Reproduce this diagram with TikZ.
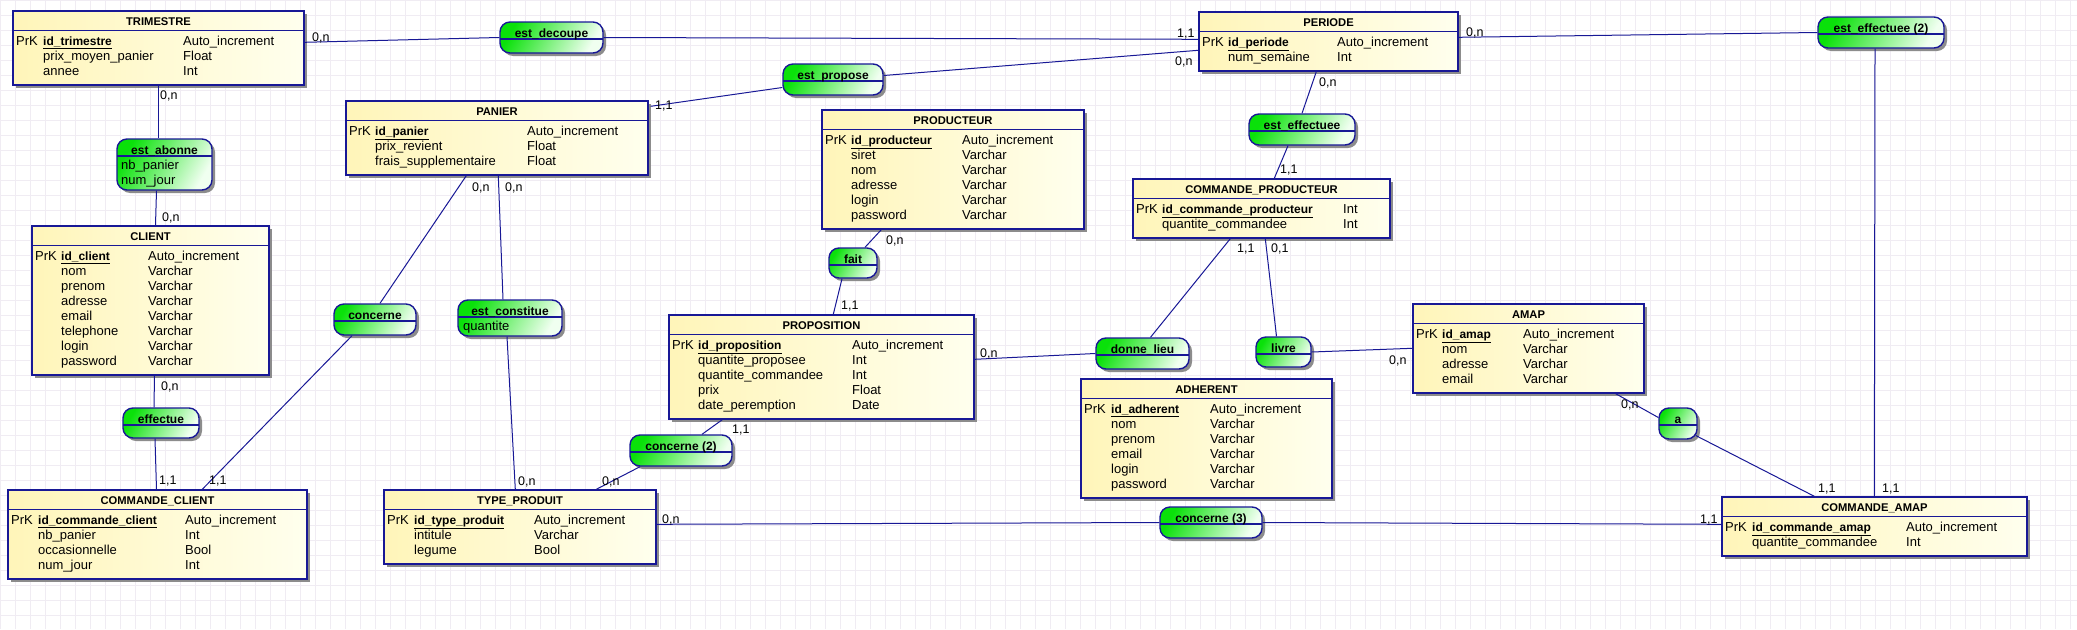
\documentclass[tikz,border=0pt]{standalone}
\usepackage{fontspec}
\setmainfont{Liberation Sans}
\usepackage{tikz}
\usetikzlibrary{positioning, fit, shadows}

\definecolor{bleu}{RGB}{24,24,150}
\definecolor{jaune}{RGB}{255,245,185}
\definecolor{jaunepale}{RGB}{255,255,238}
\definecolor{vert}{RGB}{10,225,10}
\definecolor{vertpale}{RGB}{240,255,240}
\definecolor{grille}{RGB}{240,236,243}

\tikzset{
  ombre/.style={drop shadow={shadow xshift=3pt, shadow yshift=-3pt, fill=black!45, opacity=1}},
  entite/.style={draw=bleu, line width=1.4pt, inner sep=0pt, left color=jaune, right color=jaunepale, ombre},
  relation/.style={draw=bleu, line width=1.4pt, inner sep=0pt, rounded corners=10pt, left color=vert, right color=vertpale, shading angle=60, ombre},
  trait/.style={bleu, line width=1.1pt},
  lien/.style={bleu, line width=1pt},
  titre/.style={anchor=base, inner sep=0pt, font=\fontsize{11.2}{13}\selectfont\bfseries},
  nomrel/.style={anchor=base, inner sep=0pt, font=\fontsize{12}{14}\selectfont\bfseries},
  champ/.style={anchor=base west, inner sep=0pt, font=\fontsize{13}{15}\selectfont},
  cle/.style={anchor=base west, inner sep=0pt, font=\fontsize{12}{15}\selectfont\bfseries},
  card/.style={anchor=base west, inner sep=0pt, font=\fontsize{12.5}{14}\selectfont}
}

\begin{document}
\begin{tikzpicture}[x=1pt, y=-1pt]
    \useasboundingbox (0,0) rectangle (2077,629);

    % Draw background grid
    \fill[white] (0,0) rectangle (2077,629);
    \draw[grille, line width=0.5pt, step=15pt] (0,629) grid (2077,0);

    % Entity TRIMESTRE
    \node[entite, fit={(13,11) (304,85)}] (trimestre) {};
    \draw[trait] (13,30.5) -- (304,30.5);
    \node[titre] (trimestre-titre) at (158.5,25.5) {TRIMESTRE};
    \node[champ] (trimestre-prk) at (16,45.5) {PrK};
    \node[cle] (trimestre-id) at (43,45.5) {\underline{id\_trimestre}};
    \node[champ] (trimestre-idt) at (183,45.5) {Auto\_increment};
    \foreach \nom/\typ [count=\i] in {prix\_moyen\_panier/Float, annee/Int} {
        \node[champ] (trimestre-a\i) at (43,45.5+15*\i) {\nom};
        \node[champ] (trimestre-t\i) at (183,45.5+15*\i) {\typ};
    }

    % Entity CLIENT
    \node[entite, fit={(32,226) (269,375)}] (client) {};
    \draw[trait] (32,245.5) -- (269,245.5);
    \node[titre] (client-titre) at (150.5,240.5) {CLIENT};
    \node[champ] (client-prk) at (35,260.5) {PrK};
    \node[cle] (client-id) at (61,260.5) {\underline{id\_client}};
    \node[champ] (client-idt) at (148,260.5) {Auto\_increment};
    \foreach \nom [count=\i] in {nom, prenom, adresse, email, telephone, login, password} {
        \node[champ] (client-a\i) at (61,260.5+15*\i) {\nom};
        \node[champ] (client-t\i) at (148,260.5+15*\i) {Varchar};
    }

    % Entity COMMANDE_CLIENT
    \node[entite, fit={(8,490) (307,579)}] (commandeclient) {};
    \draw[trait] (8,509.5) -- (307,509.5);
    \node[titre] (commandeclient-titre) at (157.5,504.5) {COMMANDE\_CLIENT};
    \node[champ] (commandeclient-prk) at (11,524.5) {PrK};
    \node[cle] (commandeclient-id) at (38,524.5) {\underline{id\_commande\_client}};
    \node[champ] (commandeclient-idt) at (185,524.5) {Auto\_increment};
    \foreach \nom/\typ [count=\i] in {nb\_panier/Int, occasionnelle/Bool, num\_jour/Int} {
        \node[champ] (commandeclient-a\i) at (38,524.5+15*\i) {\nom};
        \node[champ] (commandeclient-t\i) at (185,524.5+15*\i) {\typ};
    }

    % Entity PANIER
    \node[entite, fit={(346,101) (648,175)}] (panier) {};
    \draw[trait] (346,120.5) -- (648,120.5);
    \node[titre] (panier-titre) at (497,115.5) {PANIER};
    \node[champ] (panier-prk) at (349,135.5) {PrK};
    \node[cle] (panier-id) at (375,135.5) {\underline{id\_panier}};
    \node[champ] (panier-idt) at (527,135.5) {Auto\_increment};
    \foreach \nom/\typ [count=\i] in {prix\_revient/Float, frais\_supplementaire/Float} {
        \node[champ] (panier-a\i) at (375,135.5+15*\i) {\nom};
        \node[champ] (panier-t\i) at (527,135.5+15*\i) {\typ};
    }

    % Entity PRODUCTEUR
    \node[entite, fit={(822,110) (1084,229)}] (producteur) {};
    \draw[trait] (822,129.5) -- (1084,129.5);
    \node[titre] (producteur-titre) at (953,124.5) {PRODUCTEUR};
    \node[champ] (producteur-prk) at (825,144.5) {PrK};
    \node[cle] (producteur-id) at (851,144.5) {\underline{id\_producteur}};
    \node[champ] (producteur-idt) at (962,144.5) {Auto\_increment};
    \foreach \nom [count=\i] in {siret, nom, adresse, login, password} {
        \node[champ] (producteur-a\i) at (851,144.5+15*\i) {\nom};
        \node[champ] (producteur-t\i) at (962,144.5+15*\i) {Varchar};
    }

    % Entity PROPOSITION
    \node[entite, fit={(669,315) (974,419)}] (proposition) {};
    \draw[trait] (669,334.5) -- (974,334.5);
    \node[titre] (proposition-titre) at (821.5,329.5) {PROPOSITION};
    \node[champ] (proposition-prk) at (672,349.5) {PrK};
    \node[cle] (proposition-id) at (698,349.5) {\underline{id\_proposition}};
    \node[champ] (proposition-idt) at (852,349.5) {Auto\_increment};
    \foreach \nom/\typ [count=\i] in {quantite\_proposee/Int, quantite\_commandee/Int, prix/Float, date\_peremption/Date} {
        \node[champ] (proposition-a\i) at (698,349.5+15*\i) {\nom};
        \node[champ] (proposition-t\i) at (852,349.5+15*\i) {\typ};
    }

    % Entity TYPE_PRODUIT
    \node[entite, fit={(384,490) (656,564)}] (typeproduit) {};
    \draw[trait] (384,509.5) -- (656,509.5);
    \node[titre] (typeproduit-titre) at (520,504.5) {TYPE\_PRODUIT};
    \node[champ] (typeproduit-prk) at (387,524.5) {PrK};
    \node[cle] (typeproduit-id) at (414,524.5) {\underline{id\_type\_produit}};
    \node[champ] (typeproduit-idt) at (534,524.5) {Auto\_increment};
    \foreach \nom/\typ [count=\i] in {intitule/Varchar, legume/Bool} {
        \node[champ] (typeproduit-a\i) at (414,524.5+15*\i) {\nom};
        \node[champ] (typeproduit-t\i) at (534,524.5+15*\i) {\typ};
    }

    % Entity PERIODE
    \node[entite, fit={(1199,12) (1458,71)}] (periode) {};
    \draw[trait] (1199,31.5) -- (1458,31.5);
    \node[titre] (periode-titre) at (1328.5,26.5) {PERIODE};
    \node[champ] (periode-prk) at (1202,46.5) {PrK};
    \node[cle] (periode-id) at (1228,46.5) {\underline{id\_periode}};
    \node[champ] (periode-idt) at (1337,46.5) {Auto\_increment};
    \node[champ] (periode-a1) at (1228,61.5) {num\_semaine};
    \node[champ] (periode-t1) at (1337,61.5) {Int};

    % Entity COMMANDE_PRODUCTEUR
    \node[entite, fit={(1133,179) (1390,238)}] (commandeproducteur) {};
    \draw[trait] (1133,198.5) -- (1390,198.5);
    \node[titre] (commandeproducteur-titre) at (1261.5,193.5) {COMMANDE\_PRODUCTEUR};
    \node[champ] (commandeproducteur-prk) at (1136,213.5) {PrK};
    \node[cle] (commandeproducteur-id) at (1162,213.5) {\underline{id\_commande\_producteur}};
    \node[champ] (commandeproducteur-idt) at (1343,213.5) {Int};
    \node[champ] (commandeproducteur-a1) at (1162,228.5) {quantite\_commandee};
    \node[champ] (commandeproducteur-t1) at (1343,228.5) {Int};

    % Entity ADHERENT
    \node[entite, fit={(1081,379) (1332,498)}] (adherent) {};
    \draw[trait] (1081,398.5) -- (1332,398.5);
    \node[titre] (adherent-titre) at (1206.5,393.5) {ADHERENT};
    \node[champ] (adherent-prk) at (1084,413.5) {PrK};
    \node[cle] (adherent-id) at (1111,413.5) {\underline{id\_adherent}};
    \node[champ] (adherent-idt) at (1210,413.5) {Auto\_increment};
    \foreach \nom [count=\i] in {nom, prenom, email, login, password} {
        \node[champ] (adherent-a\i) at (1111,413.5+15*\i) {\nom};
        \node[champ] (adherent-t\i) at (1210,413.5+15*\i) {Varchar};
    }

    % Entity AMAP
    \node[entite, fit={(1413,304) (1644,393)}] (amap) {};
    \draw[trait] (1413,323.5) -- (1644,323.5);
    \node[titre] (amap-titre) at (1528.5,318.5) {AMAP};
    \node[champ] (amap-prk) at (1416,338.5) {PrK};
    \node[cle] (amap-id) at (1442,338.5) {\underline{id\_amap}};
    \node[champ] (amap-idt) at (1523,338.5) {Auto\_increment};
    \foreach \nom [count=\i] in {nom, adresse, email} {
        \node[champ] (amap-a\i) at (1442,338.5+15*\i) {\nom};
        \node[champ] (amap-t\i) at (1523,338.5+15*\i) {Varchar};
    }

    % Entity COMMANDE_AMAP
    \node[entite, fit={(1722,497) (2027,556)}] (commandeamap) {};
    \draw[trait] (1722,516.5) -- (2027,516.5);
    \node[titre] (commandeamap-titre) at (1874.5,511.5) {COMMANDE\_AMAP};
    \node[champ] (commandeamap-prk) at (1725,531.5) {PrK};
    \node[cle] (commandeamap-id) at (1752,531.5) {\underline{id\_commande\_amap}};
    \node[champ] (commandeamap-idt) at (1906,531.5) {Auto\_increment};
    \node[champ] (commandeamap-a1) at (1752,546.5) {quantite\_commandee};
    \node[champ] (commandeamap-t1) at (1906,546.5) {Int};

    % Relations
    \node[relation, fit={(500,22) (603,53)}] (estdecoupe) {};
    \draw[trait] (500,39) -- (603,39);
    \node[nomrel] (estdecoupe-titre) at (551.5,37) {est\_decoupe};

    \node[relation, fit={(783,64) (883,95)}] (estpropose) {};
    \draw[trait] (783,81) -- (883,81);
    \node[nomrel] (estpropose-titre) at (833,79) {est\_propose};

    \node[relation, fit={(117,139) (212,190)}] (estabonne) {};
    \draw[trait] (117,156) -- (212,156);
    \node[nomrel] (estabonne-titre) at (164.5,154) {est\_abonne};
    \node[champ] (estabonne-a1) at (121,169.5) {nb\_panier};
    \node[champ] (estabonne-a2) at (121,184.5) {num\_jour};

    \node[relation, fit={(123,408) (199,438)}] (effectue) {};
    \draw[trait] (123,425) -- (199,425);
    \node[nomrel] (effectue-titre) at (161,423) {effectue};

    \node[relation, fit={(334,304) (416,335)}] (concerne) {};
    \draw[trait] (334,321) -- (416,321);
    \node[nomrel] (concerne-titre) at (375,319) {concerne};

    \node[relation, fit={(458,300) (562,336)}] (estconstitue) {};
    \draw[trait] (458,317) -- (562,317);
    \node[nomrel] (estconstitue-titre) at (510,315) {est\_constitue};
    \node[champ] (estconstitue-a1) at (463,330.5) {quantite};

    \node[relation, fit={(630,435) (732,466)}] (concerne2) {};
    \draw[trait] (630,452) -- (732,452);
    \node[nomrel] (concerne2-titre) at (681,450) {concerne (2)};

    \node[relation, fit={(829,248) (877,278)}] (fait) {};
    \draw[trait] (829,265) -- (877,265);
    \node[nomrel] (fait-titre) at (853,263) {fait};

    \node[relation, fit={(1249,114) (1355,145)}] (esteffectuee) {};
    \draw[trait] (1249,131) -- (1355,131);
    \node[nomrel] (esteffectuee-titre) at (1302,129) {est\_effectuee};

    \node[relation, fit={(1818,17) (1944,48)}] (esteffectuee2) {};
    \draw[trait] (1818,34) -- (1944,34);
    \node[nomrel] (esteffectuee2-titre) at (1881,32) {est\_effectuee (2)};

    \node[relation, fit={(1096,338) (1189,369)}] (donnelieu) {};
    \draw[trait] (1096,355) -- (1189,355);
    \node[nomrel] (donnelieu-titre) at (1142.5,353) {donne\_lieu};

    \node[relation, fit={(1256,337) (1311,367)}] (livre) {};
    \draw[trait] (1256,354) -- (1311,354);
    \node[nomrel] (livre-titre) at (1283.5,352) {livre};

    \node[relation, fit={(1160,507) (1262,538)}] (concerne3) {};
    \draw[trait] (1160,524) -- (1262,524);
    \node[nomrel] (concerne3-titre) at (1211,522) {concerne (3)};

    \node[relation, fit={(1659,408) (1697,439)}] (rela) {};
    \draw[trait] (1659,425) -- (1697,425);
    \node[nomrel] (rela-titre) at (1678,423) {a};

    % Links
    \draw[lien] ([yshift=-32pt]trimestre.north east) -- (estdecoupe.west);
    \draw[lien] (estdecoupe.east) -- ([yshift=-28pt]periode.north west);
    \draw[lien] ([yshift=4pt]estpropose.east) -- ([yshift=-39pt]periode.north west);
    \draw[lien] ([yshift=-8pt]estpropose.west) -- ([xshift=2pt,yshift=-6pt]panier.north east);
    \draw[lien] (trimestre.south) -- ([xshift=-6pt]estabonne.north);
    \draw[lien] ([xshift=-8pt]estabonne.south) -- ([xshift=5pt]client.north);
    \draw[lien] ([xshift=4pt]client.south) -- ([xshift=-7pt]effectue.north);
    \draw[lien] ([xshift=-6pt]effectue.south) -- ([xshift=-1pt]commandeclient.north);
    \draw[lien] ([xshift=-23pt]concerne.south) -- ([xshift=195pt]commandeclient.north west);
    \draw[lien] ([xshift=121pt]panier.south west) -- ([xshift=5pt]concerne.north);
    \draw[lien] ([xshift=153pt]panier.south west) -- ([xshift=-7pt]estconstitue.north);
    \draw[lien] ([xshift=-3pt]estconstitue.south) -- ([xshift=132pt]typeproduit.north west);
    \draw[lien] ([xshift=-41pt]concerne2.south) -- ([xshift=213pt]typeproduit.north west);
    \draw[lien] ([xshift=21pt]concerne2.north) -- ([xshift=54pt]proposition.south west);
    \draw[lien] ([xshift=60pt]producteur.south west) -- ([xshift=12pt]fait.north);
    \draw[lien] ([xshift=-11pt]fait.south) -- ([xshift=165pt]proposition.north west);
    \draw[lien] ([xshift=118pt]periode.south west) -- (esteffectuee.north);
    \draw[lien] ([xshift=-14pt]esteffectuee.south) -- ([xshift=142pt]commandeproducteur.north west);
    \draw[lien] ([xshift=98pt]commandeproducteur.south west) -- ([xshift=8pt]donnelieu.north);
    \draw[lien] ([xshift=133pt]commandeproducteur.south west) -- ([xshift=-7pt]livre.north);
    \draw[lien] ([yshift=-45pt]proposition.north east) -- (donnelieu.west);
    \draw[lien] (livre.east) -- ([yshift=-45pt]amap.north west);
    \draw[lien] ([yshift=-26pt]periode.north east) -- (esteffectuee2.west);
    \draw[lien] ([xshift=-6pt]esteffectuee2.south) -- ([xshift=153pt]commandeamap.north west);
    \draw[lien] ([xshift=-29pt]amap.south east) -- ([yshift=6pt]rela.west);
    \draw[lien] ([xshift=-2pt,yshift=-12pt]rela.east) -- ([xshift=93pt]commandeamap.north west);
    \draw[lien] ([yshift=-35pt]typeproduit.north east) -- (concerne3.west);
    \draw[lien] (concerne3.east) -- ([yshift=-28pt]commandeamap.north west);

    % Cardinalities
    \node[card] (c1) at (312,41.5) {0,n};
    \node[card] (c2) at (1177,37.5) {1,1};
    \node[card] (c3) at (1175,65.5) {0,n};
    \node[card] (c4) at (655,109.5) {1,1};
    \node[card] (c5) at (160,99.5) {0,n};
    \node[card] (c6) at (162,221.5) {0,n};
    \node[card] (c7) at (161,390.5) {0,n};
    \node[card] (c8) at (159,484.5) {1,1};
    \node[card] (c9) at (209,484.5) {1,1};
    \node[card] (c10) at (472,191.5) {0,n};
    \node[card] (c11) at (505,191.5) {0,n};
    \node[card] (c12) at (518,485.5) {0,n};
    \node[card] (c13) at (602,485.5) {0,n};
    \node[card] (c14) at (732,433.5) {1,1};
    \node[card] (c15) at (886,244.5) {0,n};
    \node[card] (c16) at (841,309.5) {1,1};
    \node[card] (c17) at (1319,86.5) {0,n};
    \node[card] (c18) at (1280,173.5) {1,1};
    \node[card] (c19) at (1237,252.5) {1,1};
    \node[card] (c20) at (1271,252.5) {0,1};
    \node[card] (c21) at (980,357.5) {0,n};
    \node[card] (c22) at (1389,364.5) {0,n};
    \node[card] (c23) at (1466,36.5) {0,n};
    \node[card] (c24) at (1882,492.5) {1,1};
    \node[card] (c25) at (1621,408.5) {0,n};
    \node[card] (c26) at (1818,492.5) {1,1};
    \node[card] (c27) at (662,523.5) {0,n};
    \node[card] (c28) at (1700,523.5) {1,1};
\end{tikzpicture}
\end{document}
